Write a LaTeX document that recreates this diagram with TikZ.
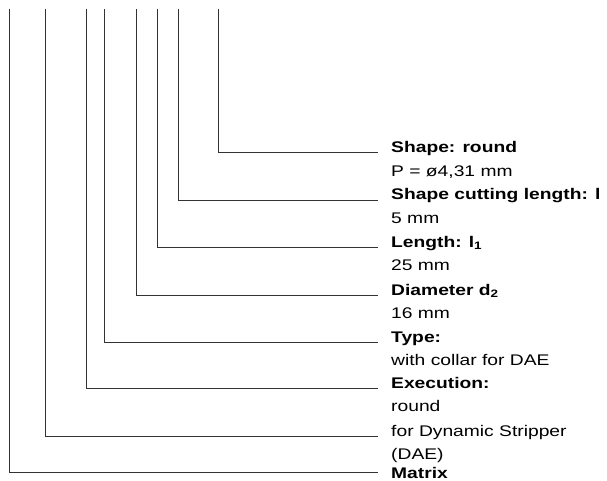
\documentclass[tikz,border=0pt]{standalone}
\usepackage{fontspec}
\setmainfont{Liberation Sans}[FakeStretch=1.25]
\newcommand\lblsize{\fontsize{15.4}{23.5}\selectfont}

\begin{document}
\begin{tikzpicture}[x=1pt, y=-1pt,
  lead/.style={black!80, line width=1pt},
  head/.style={anchor=base west, inner sep=0pt, font=\lblsize\bfseries},
  txt/.style={anchor=base west, inner sep=0pt, font=\lblsize}]
  \useasboundingbox (0,0) rectangle (607,481);
  % top ends of the leaders
  \coordinate (t1) at (9.7,9);
  \coordinate (t2) at (45.7,9);
  \coordinate (t3) at (86.7,9);
  \coordinate (t4) at (104.7,9);
  \coordinate (t5) at (136.3,9);
  \coordinate (t6) at (157.7,9);
  \coordinate (t7) at (178.7,9);
  \coordinate (t8) at (218.7,9);
  % labels
  \node[head] (shp) at (391,153) {Shape: round};
  \node[txt] (shpval) at (391,176.5) {P = ø4,31 mm};
  \node[head] (cut) at (391,200) {Shape cutting length: l};
  \node[txt] (cutval) at (391,223.5) {5 mm};
  \node[head] (len) at (391,247) {Length: l\textsubscript{1}};
  \node[txt] (lenval) at (391,270.5) {25 mm};
  \node[head] (dia) at (391,295) {Diameter d\textsubscript{2}};
  \node[txt] (diaval) at (391,318.5) {16 mm};
  \node[head] (typ) at (391,342) {Type:};
  \node[txt] (typval) at (391,365.5) {with collar for DAE};
  \node[head] (exe) at (391,388) {Execution:};
  \node[txt] (exeval) at (391,411.5) {round};
  \node[txt] (dyn) at (391,436) {for Dynamic Stripper};
  \node[txt] (dynval) at (391,459.5) {(DAE)};
  \node[head] (mat) at (391,478) {Matrix};
  % leaders
  \draw[lead] (t8) |- ([xshift=-13pt]shp.base west);
  \draw[lead] (t7) |- ([xshift=-13pt]cut.base west);
  \draw[lead] (t6) |- ([xshift=-13pt]len.base west);
  \draw[lead] (t5) |- ([xshift=-13pt]dia.base west);
  \draw[lead] (t4) |- ([xshift=-13pt]typ.base west);
  \draw[lead] (t3) |- ([xshift=-13pt]exe.base west);
  \draw[lead] (t2) |- ([xshift=-13pt]dyn.base west);
  \draw[lead] (t1) |- ([xshift=-13pt]mat.west);
\end{tikzpicture}
\end{document}
